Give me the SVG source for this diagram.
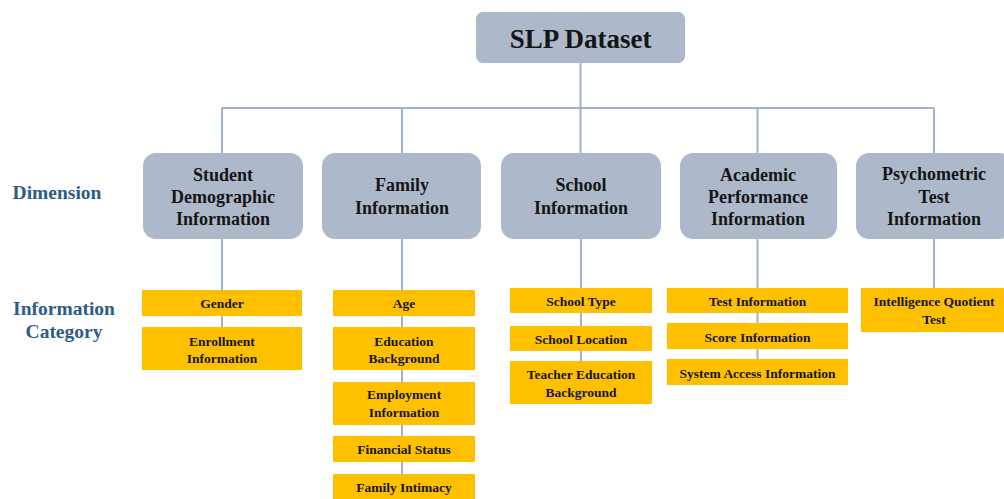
<svg xmlns="http://www.w3.org/2000/svg" width="1004" height="499" viewBox="0 0 1004 499">
  <style>
    .root { fill: #ADB9CA; }
    .dim { fill: #ADB9CA; }
    .cat { fill: #FFC000; }
    .link { stroke: #A3B2C8; stroke-width: 2; fill: none; }
    text { font-family: "Liberation Serif", "Times New Roman", serif; font-weight: bold; text-anchor: middle; fill: #151515; }
    .title { font-size: 27px; }
    .dimtxt { font-size: 18px; }
    .cattxt { font-size: 13.5px; }
    .side { font-size: 19.5px; fill: #2E5B88; }
  </style>
  <rect width="1004" height="499" fill="#FFFFFF"/>

  <!-- connectors -->
  <g id="connectors">
    <path class="link" d="M580.5 63 V108 M222 108 H934 M222 108 V153 M402 108 V153 M580.5 108 V153 M757.5 108 V153 M934 108 V153"/>
    <path class="link" d="M222 239 V327 M402 239 V478 M581 239 V361 M757.5 239 V359 M934 239 V288"/>
  </g>

  <!-- row labels -->
  <g id="labels">
    <text class="side" x="57" y="199">Dimension</text>
    <text class="side" x="64" y="315">Information</text>
    <text class="side" x="64" y="338">Category</text>
  </g>

  <!-- root -->
  <g id="slp-dataset">
    <rect class="root" x="476" y="12" width="209" height="51" rx="7"/>
    <text class="title" x="580.5" y="48">SLP Dataset</text>
  </g>

  <!-- dimensions -->
  <g id="dim-student">
    <rect class="dim" x="143" y="153" width="160" height="86" rx="13"/>
    <text class="dimtxt" x="223" y="181">Student</text>
    <text class="dimtxt" x="223" y="203">Demographic</text>
    <text class="dimtxt" x="223" y="225">Information</text>
  </g>
  <g id="dim-family">
    <rect class="dim" x="322" y="153" width="159" height="86" rx="13"/>
    <text class="dimtxt" x="402" y="191">Family</text>
    <text class="dimtxt" x="402" y="214">Information</text>
  </g>
  <g id="dim-school">
    <rect class="dim" x="501" y="153" width="160" height="86" rx="13"/>
    <text class="dimtxt" x="581" y="191">School</text>
    <text class="dimtxt" x="581" y="214">Information</text>
  </g>
  <g id="dim-academic">
    <rect class="dim" x="680" y="153" width="157" height="86" rx="13"/>
    <text class="dimtxt" x="758" y="181">Academic</text>
    <text class="dimtxt" x="758" y="203">Performance</text>
    <text class="dimtxt" x="758" y="225">Information</text>
  </g>
  <g id="dim-psychometric">
    <rect class="dim" x="856" y="153" width="156" height="86" rx="13"/>
    <text class="dimtxt" x="934" y="180">Psychometric</text>
    <text class="dimtxt" x="934" y="203">Test</text>
    <text class="dimtxt" x="934" y="225">Information</text>
  </g>

  <!-- categories: student -->
  <g id="cat-gender">
    <rect class="cat" x="142" y="290" width="160" height="26"/>
    <text class="cattxt" x="222" y="308">Gender</text>
  </g>
  <g id="cat-enrollment">
    <rect class="cat" x="142" y="327" width="160" height="43"/>
    <text class="cattxt" x="222" y="346">Enrollment</text>
    <text class="cattxt" x="222" y="363">Information</text>
  </g>

  <!-- categories: family -->
  <g id="cat-age">
    <rect class="cat" x="333" y="290" width="142" height="26"/>
    <text class="cattxt" x="404" y="308">Age</text>
  </g>
  <g id="cat-education">
    <rect class="cat" x="333" y="327" width="142" height="43"/>
    <text class="cattxt" x="404" y="346">Education</text>
    <text class="cattxt" x="404" y="363">Background</text>
  </g>
  <g id="cat-employment">
    <rect class="cat" x="333" y="382" width="142" height="43"/>
    <text class="cattxt" x="404" y="399">Employment</text>
    <text class="cattxt" x="404" y="417">Information</text>
  </g>
  <g id="cat-financial">
    <rect class="cat" x="333" y="436" width="142" height="26"/>
    <text class="cattxt" x="404" y="454">Financial Status</text>
  </g>
  <g id="cat-intimacy">
    <rect class="cat" x="333" y="474" width="142" height="30"/>
    <text class="cattxt" x="404" y="492">Family Intimacy</text>
  </g>

  <!-- categories: school -->
  <g id="cat-school-type">
    <rect class="cat" x="510" y="288" width="142" height="25"/>
    <text class="cattxt" x="581" y="306">School Type</text>
  </g>
  <g id="cat-school-location">
    <rect class="cat" x="510" y="326" width="142" height="25"/>
    <text class="cattxt" x="581" y="344">School Location</text>
  </g>
  <g id="cat-teacher">
    <rect class="cat" x="510" y="361" width="142" height="43"/>
    <text class="cattxt" x="581" y="379">Teacher Education</text>
    <text class="cattxt" x="581" y="397">Background</text>
  </g>

  <!-- categories: academic -->
  <g id="cat-test-info">
    <rect class="cat" x="667" y="288" width="181" height="25"/>
    <text class="cattxt" x="757.5" y="306">Test Information</text>
  </g>
  <g id="cat-score">
    <rect class="cat" x="667" y="323" width="181" height="26"/>
    <text class="cattxt" x="757.5" y="342">Score Information</text>
  </g>
  <g id="cat-system">
    <rect class="cat" x="667" y="359" width="181" height="26"/>
    <text class="cattxt" x="757.5" y="378">System Access Information</text>
  </g>

  <!-- categories: psychometric -->
  <g id="cat-iq">
    <rect class="cat" x="861" y="288" width="151" height="44"/>
    <text class="cattxt" x="934" y="306">Intelligence Quotient</text>
    <text class="cattxt" x="934" y="324">Test</text>
  </g>
</svg>
